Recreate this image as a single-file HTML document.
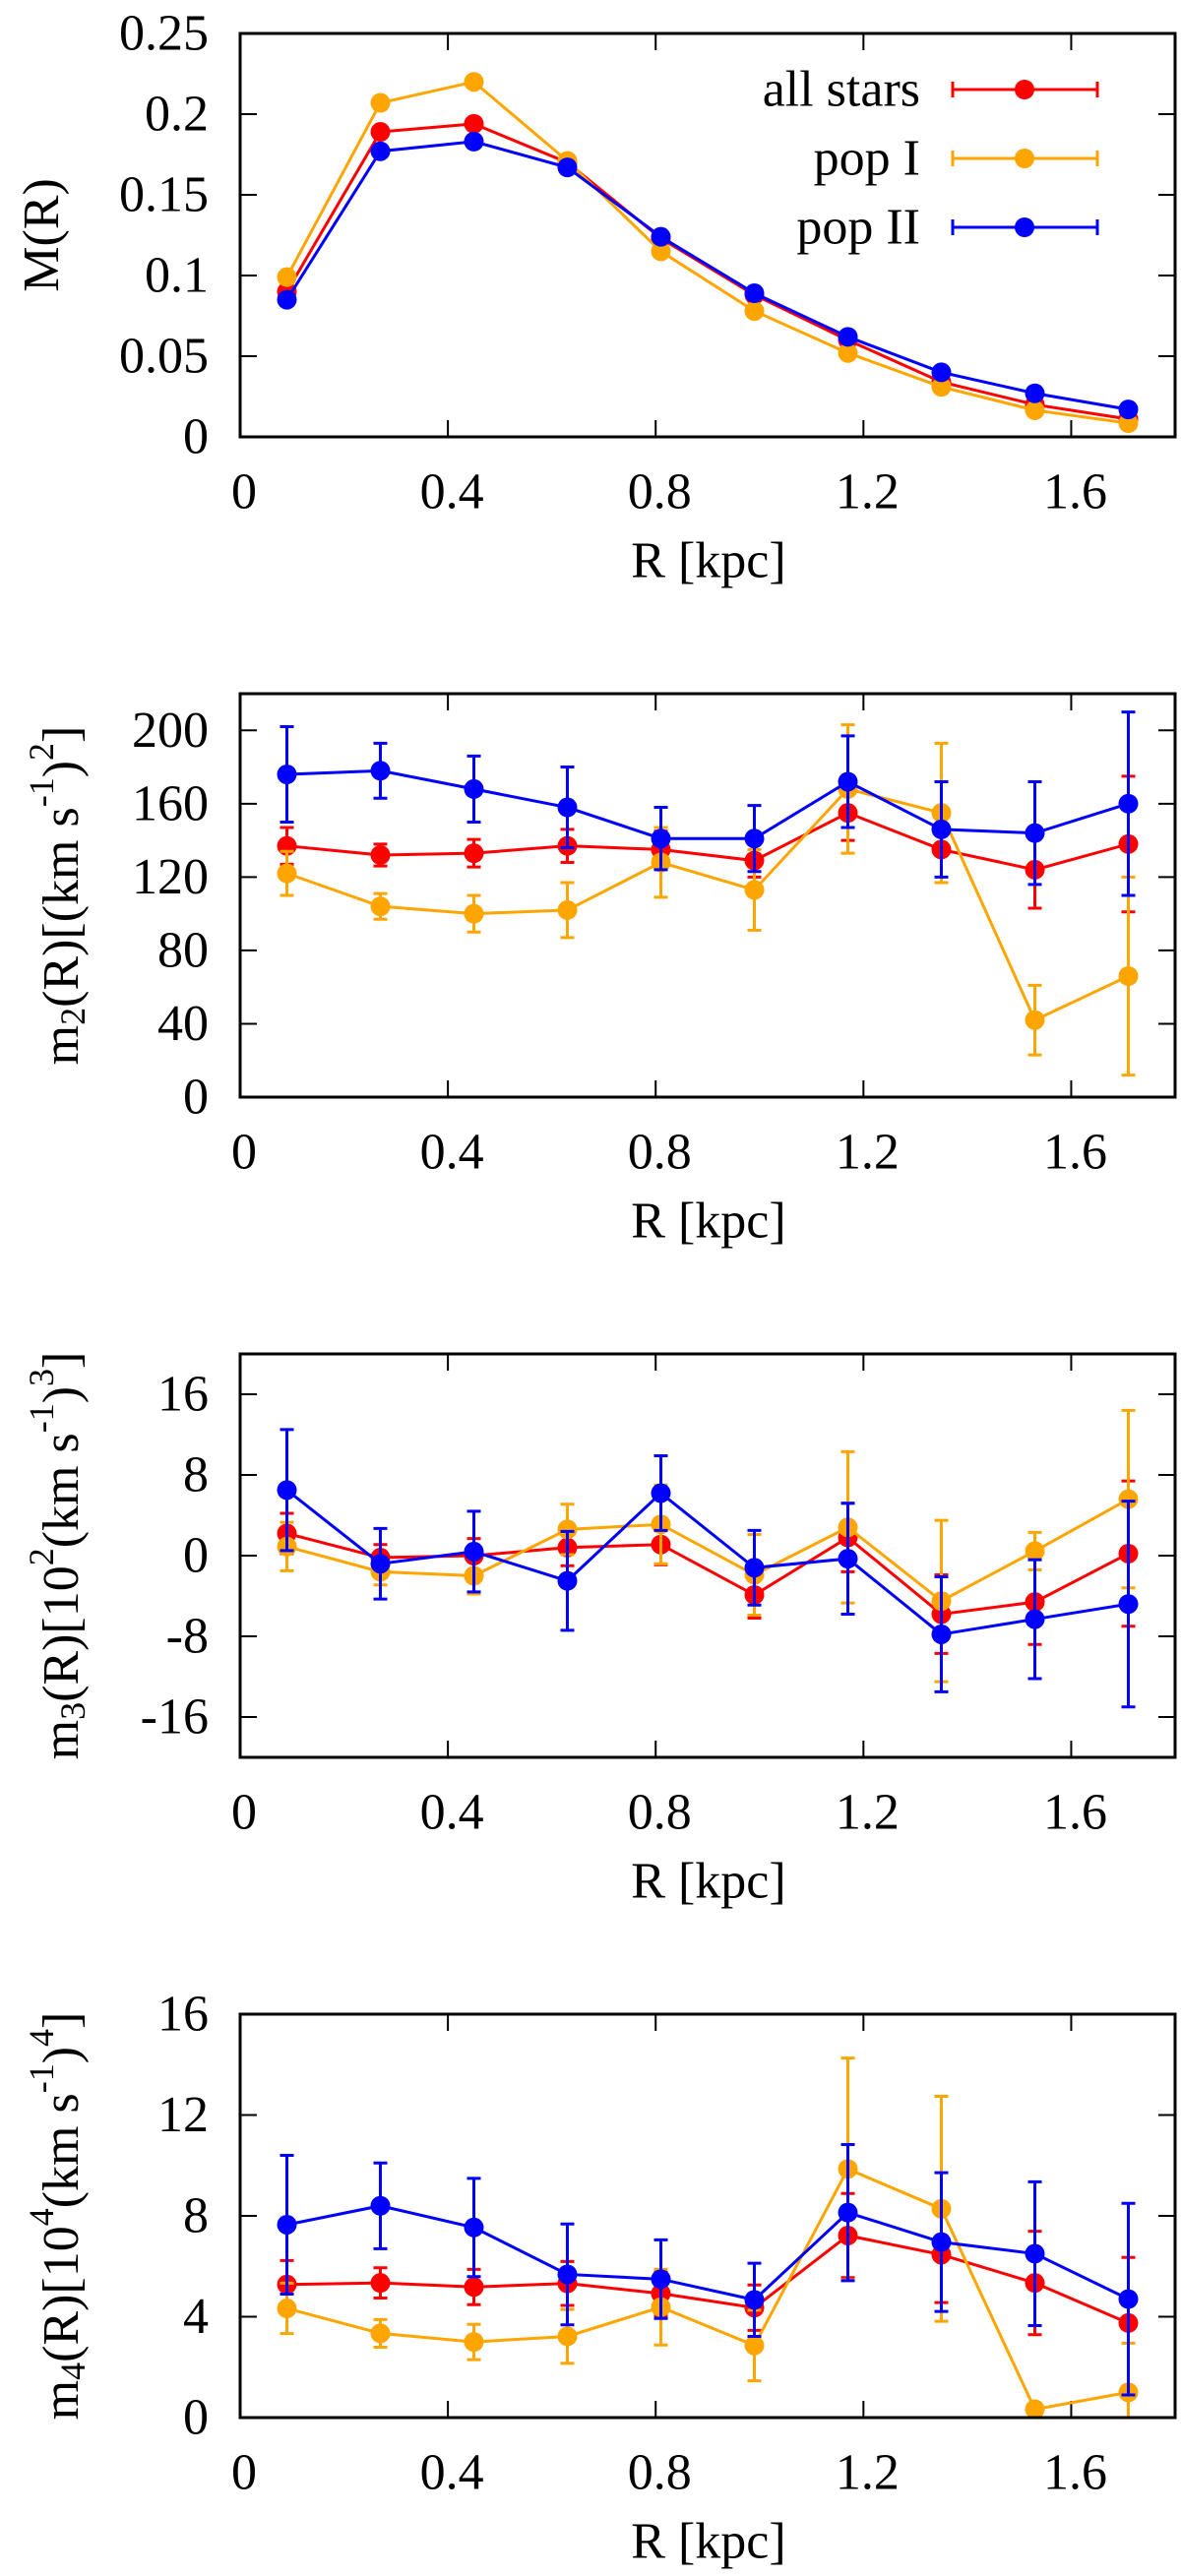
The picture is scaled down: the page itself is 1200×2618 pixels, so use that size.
<!DOCTYPE html>
<html><head><meta charset="utf-8"><style>
html,body{margin:0;padding:0;background:#fff;}
svg{display:block;font-family:"Liberation Serif",serif;}
svg text{font-family:"Liberation Serif",serif;}
</style></head><body>
<svg id="fig" width="1200" height="2618" viewBox="0 0 1200 2618" xmlns="http://www.w3.org/2000/svg" font-family="Liberation Serif, serif"></svg>
<script>
const R = [0.09,0.27,0.45,0.63,0.81,0.99,1.17,1.35,1.53,1.71];
const xTicks = [0,0.4,0.8,1.2,1.6];
const xTickLabels = ["0","0.4","0.8","1.2","1.6"];
const seriesNames = ["all stars","pop I","pop II"];
const seriesColors = ["#ff0000","#ffa500","#0000ff"];

// Panel 1: M(R)
const m1All = [0.090,0.189,0.194,0.170,0.123,0.088,0.060,0.034,0.020,0.011];
const m1PopI = [0.099,0.207,0.220,0.171,0.115,0.078,0.052,0.031,0.0165,0.0085];
const m1PopII = [0.085,0.177,0.183,0.167,0.124,0.089,0.062,0.040,0.027,0.017];
const m1Ticks = [0,0.05,0.1,0.15,0.2,0.25];
const m1TickLabels = ["0","0.05","0.1","0.15","0.2","0.25"];

// Panel 2: m2
const m2All = [137,132,133,137,135,129,155,135,124,138];
const m2AllErr = [10,6,7.5,9,10,9,15,18,21,37];
const m2PopI = [122,104,100,102,128,113,168,155,42,66];
const m2PopIErr = [12,7,10,15,19,22,35,38,19,54];
const m2PopII = [176,178,168,158,141,141,172,146,144,160];
const m2PopIIErr = [26,15,18,22,17,18,25,26,28,50];
const m2Ticks = [0,40,80,120,160,200];
const m2TickLabels = ["0","40","80","120","160","200"];

// Panel 3: m3
const m3All = [2.2,-0.2,0,0.8,1.1,-3.9,1.8,-5.8,-4.6,0.2];
const m3AllErr = [2,1.3,1.7,1.8,2,2.3,3.4,3.9,4.2,7.2];
const m3PopI = [0.9,-1.6,-2,2.6,3.1,-1.9,2.8,-4.5,0.45,5.6];
const m3PopIErr = [2.4,1.3,1.8,2.5,3.9,4,7.5,8,1.85,8.8];
const m3PopII = [6.5,-0.8,0.4,-2.5,6.2,-1.2,-0.3,-7.8,-6.3,-4.8];
const m3PopIIErr = [6,3.5,4,4.9,3.7,3.7,5.5,5.7,5.9,10.2];
const m3Ticks = [-16,-8,0,8,16];
const m3TickLabels = ["-16","-8","0","8","16"];

// Panel 4: m4
const m4All = [5.28,5.34,5.18,5.32,4.92,4.36,7.22,6.46,5.34,3.75];
const m4AllErr = [0.95,0.6,0.7,0.87,0.9,0.9,1.67,1.9,2.05,2.6];
const m4PopI = [4.33,3.34,3.0,3.22,4.38,2.86,9.86,8.28,0.33,1.0];
const m4PopIErr = [1.0,0.55,0.7,1.07,1.5,1.4,4.4,4.46,0.12,1.95];
const m4PopII = [7.65,8.4,7.54,5.68,5.49,4.67,8.13,6.96,6.5,4.7];
const m4PopIIErr = [2.75,1.7,1.95,2.0,1.56,1.45,2.7,2.75,2.85,3.8];
const m4Ticks = [0,4,8,12,16];
const m4TickLabels = ["0","4","8","12","16"];

const NS = "http://www.w3.org/2000/svg";
const FONT = "Liberation Serif, serif";
const svg = document.getElementById('fig');
function mk(tag, attrs, parent){
  const e = document.createElementNS(NS, tag);
  for (const k in attrs) e.setAttribute(k, attrs[k]);
  if (tag === 'text') e.setAttribute('font-family', FONT);
  (parent||svg).appendChild(e);
  return e;
}
const X0 = 244, X1 = 1194, XMAX = 1.8;
function xs(v){ return X0 + v/XMAX*(X1-X0); }

function panel(idx, top, ymin, ymax, yT, yTL, data, errs, titleParts, titleX, legend){
  const bot = top + 410;
  const ys = v => bot - (v-ymin)/(ymax-ymin)*410;
  const g = mk('g', {});
  
  
  yT.forEach((t,i)=>{
    const y = ys(t);
    const l = mk('path',{d:`M${X0} ${y}h17M${X1} ${y}h-17`,stroke:'#000','stroke-width':2},g);
    
    
    const tx = mk('text',{x:212,y:y,'font-size':52,'text-anchor':'end','dominant-baseline':'central'},g);
    tx.textContent = yTL[i];
    
    
  });
  xTicks.forEach((t,i)=>{
    const x = xs(t);
    const l = mk('path',{d:`M${x} ${bot}v-17M${x} ${top}v17`,stroke:'#000','stroke-width':2},g);
    
    
    const tx = mk('text',{x:x+4,y:bot+56,'font-size':52,'text-anchor':'middle','dominant-baseline':'central'},g);
    tx.textContent = xTickLabels[i];
    
    
  });
  const xt = mk('text',{x:720,y:bot+126,'font-size':52,'text-anchor':'middle','dominant-baseline':'central'},g);
  xt.textContent = 'R [kpc]';
  
  
  const ymid = (top+bot)/2;
  const yt = mk('text',{x:0,y:0,'font-size':52,'text-anchor':'middle','dominant-baseline':'central',transform:`translate(${titleX} ${ymid}) rotate(-90)`},g);
  
  
  titleParts.forEach(p=>{
    const ts = mk('tspan',{},yt);
    ts.textContent = p[0];
    if (p[1]==='sub'){ ts.setAttribute('font-size',36); ts.setAttribute('dy',12); }
    else if (p[1]==='sup'){ ts.setAttribute('font-size',36); ts.setAttribute('dy',-20); }
    else if (p[1]==='up'){ ts.setAttribute('dy',-12); }
    else if (p[1]==='down'){ ts.setAttribute('dy',20); }
  });
  data.forEach((vals,s)=>{
    const col = seriesColors[s];
    const sg = mk('g',{},g);
    
    
    if (errs){
      vals.forEach((v,i)=>{
        const x = xs(R[i]);
        let y1 = ys(v+errs[s][i]), y2 = ys(v-errs[s][i]);
        const c1 = Math.max(top, Math.min(bot,y1)), c2 = Math.max(top, Math.min(bot,y2));
        let d = `M${x} ${c1}V${c2}`;
        if (y1>=top && y1<=bot) d += `M${x-7} ${y1}h14`;
        if (y2>=top && y2<=bot) d += `M${x-7} ${y2}h14`;
        const e = mk('path',{d:d,stroke:col,'stroke-width':3,fill:'none'},sg);
        
        
      });
    }
    const pts = vals.map((v,i)=>`${xs(R[i])},${ys(v)}`).join(' ');
    const pl = mk('polyline',{points:pts,fill:'none',stroke:col,'stroke-width':3},sg);
    
    
    vals.forEach((v,i)=>{
      const c = mk('circle',{cx:xs(R[i]),cy:ys(v),r:10,fill:col},sg);
      
      
    });
  });
  const box = mk('rect',{x:X0,y:top,width:X1-X0,height:410,fill:'none',stroke:'#000','stroke-width':3},g);
  
  
  if (legend){
    const lg = mk('g',{},g);
    
    
    seriesNames.forEach((n,s)=>{
      const y = 91 + s*70;
      const t = mk('text',{x:935,y:y,'font-size':52,'text-anchor':'end','dominant-baseline':'central'},lg);
      t.textContent = n;
      
      
      const p = mk('path',{d:`M968 ${y}H1115M968 ${y-8}v16M1115 ${y-8}v16`,stroke:seriesColors[s],'stroke-width':3},lg);
      
      
      const c = mk('circle',{cx:1041,cy:y,r:10,fill:seriesColors[s]},lg);
      
      
    });
  }
}

panel(1, 34, 0, 0.25, m1Ticks, m1TickLabels, [m1All,m1PopI,m1PopII], null,
  [["M(R)"]], 42, true);
panel(2, 705, 0, 220, m2Ticks, m2TickLabels, [m2All,m2PopI,m2PopII], [m2AllErr,m2PopIErr,m2PopIIErr],
  [["m"],["2","sub"],["(R)[(km s","up"],["-1","sup"],[")","down"],["2","sup"],["]","down"]], 62, false);
panel(3, 1376, -20, 20, m3Ticks, m3TickLabels, [m3All,m3PopI,m3PopII], [m3AllErr,m3PopIErr,m3PopIIErr],
  [["m"],["3","sub"],["(R)[10","up"],["2","sup"],["(km s","down"],["-1","sup"],[")","down"],["3","sup"],["]","down"]], 62, false);
panel(4, 2047, 0, 16, m4Ticks, m4TickLabels, [m4All,m4PopI,m4PopII], [m4AllErr,m4PopIErr,m4PopIIErr],
  [["m"],["4","sub"],["(R)[10","up"],["4","sup"],["(km s","down"],["-1","sup"],[")","down"],["4","sup"],["]","down"]], 62, false);
</script>
</body></html>
